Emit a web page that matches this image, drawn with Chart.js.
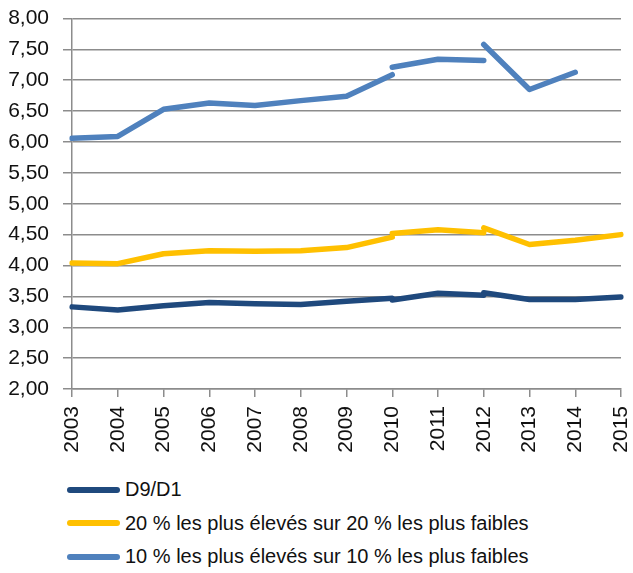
<!DOCTYPE html>
<html>
<head>
<meta charset="utf-8">
<script src="https://cdn.jsdelivr.net/npm/chart.js@4"></script>
<style>
  body { margin: 0; background: #fff; }
  #wrap { position: relative; width: 633px; height: 573px; }
  #chart { position: absolute; left: 0; top: 0; }
  #legend { position: absolute; left: 67px; top: 473px; font-family: 'Liberation Sans', Arial, sans-serif; font-size: 20px; color: #111; }
  .item { height: 33.5px; display: flex; align-items: center; }
  .swatch { width: 53px; height: 6px; border-radius: 3px; margin-right: 5px; }
</style>
</head>
<body>
<div id="wrap">
  <canvas id="chart" width="633" height="470"></canvas>
  <div id="legend"></div>
</div>
<script>
// années (axe x)
const years = ['2003', '2004', '2005', '2006', '2007', '2008', '2009', '2010', '2011', '2012', '2013', '2014', '2015'];

// séries : ruptures en 2010 et 2012, donc 3 segments par série
const d9d1A = [3.33, 3.28, 3.35, 3.40, 3.38, 3.37, 3.42, 3.47, null, null, null, null, null];
const d9d1B = [null, null, null, null, null, null, null, 3.44, 3.55, 3.52, null, null, null];
const d9d1C = [null, null, null, null, null, null, null, null, null, 3.56, 3.45, 3.45, 3.49];

const top20A = [4.04, 4.03, 4.19, 4.24, 4.23, 4.24, 4.29, 4.46, null, null, null, null, null];
const top20B = [null, null, null, null, null, null, null, 4.52, 4.58, 4.53, null, null, null];
const top20C = [null, null, null, null, null, null, null, null, null, 4.61, 4.34, 4.41, 4.50];

const top10A = [6.06, 6.09, 6.53, 6.63, 6.59, 6.67, 6.74, 7.09, null, null, null, null, null];
const top10B = [null, null, null, null, null, null, null, 7.21, 7.34, 7.32, null, null, null];
const top10C = [null, null, null, null, null, null, null, null, null, 7.58, 6.85, 7.13, null];

const seriesNames = ['D9/D1', '20 % les plus élevés sur 20 % les plus faibles', '10 % les plus élevés sur 10 % les plus faibles'];
const seriesColors = ['#1f497d', '#ffc000', '#4f81bd'];

const fontFam = "'Liberation Sans', Arial, sans-serif";

function seg(data, i) {
    return {
        label: seriesNames[i],
        data: data,
        borderColor: seriesColors[i],
        backgroundColor: seriesColors[i],
        borderWidth: 5.5,
        borderCapStyle: 'round',
        borderJoinStyle: 'round',
        pointRadius: 0,
        pointHoverRadius: 0,
        tension: 0,
        spanGaps: false
    };
}

const chart = new Chart(document.getElementById('chart'), {
    type: 'line',
    data: {
        labels: years,
        datasets: [
            seg(top10A, 2), seg(top10B, 2), seg(top10C, 2),
            seg(top20A, 1), seg(top20B, 1), seg(top20C, 1),
            seg(d9d1A, 0), seg(d9d1B, 0), seg(d9d1C, 0)
        ]
    },
    options: {
        responsive: false,
        animation: false,
        layout: { padding: { top: 18.5, right: 12, left: 0, bottom: 0 } },
        plugins: {
            legend: { display: false },
            tooltip: { enabled: false }
        },
        scales: {
            x: {
                offset: false,
                grid: { display: true, drawOnChartArea: false, drawTicks: true, tickLength: 8, color: '#8c8c8c', lineWidth: 1.5 },
                border: { display: true, color: '#8c8c8c', width: 1.5 },
                ticks: {
                    minRotation: 90, maxRotation: 90, padding: 9, autoSkip: false,
                    color: '#111', font: { family: fontFam, size: 21 }
                },
                afterFit: (s) => { s.height = 81; s.paddingLeft = 0; s.paddingRight = 0; }
            },
            y: {
                min: 2, max: 8,
                grid: { color: '#8c8c8c', lineWidth: 1.5, tickLength: 9 },
                border: { display: true, color: '#8c8c8c', width: 1.5 },
                ticks: {
                    stepSize: 0.5, padding: 14, autoSkip: false, color: '#111',
                    font: { family: fontFam, size: 21 },
                    callback: (v) => v.toFixed(2).replace('.', ',')
                },
                afterFit: (s) => { s.width = 72; s.paddingTop = 0; s.paddingBottom = 0; }
            }
        }
    }
});

// légende : une ligne par série
const legend = document.getElementById('legend');
[0, 1, 2].forEach(i => {
    const row = document.createElement('div');
    row.className = 'item';
    const sw = document.createElement('span');
    sw.className = 'swatch';
    sw.style.background = seriesColors[i];
    const txt = document.createElement('span');
    txt.textContent = seriesNames[i];
    row.appendChild(sw);
    row.appendChild(txt);
    legend.appendChild(row);
});
</script>
</body>
</html>
